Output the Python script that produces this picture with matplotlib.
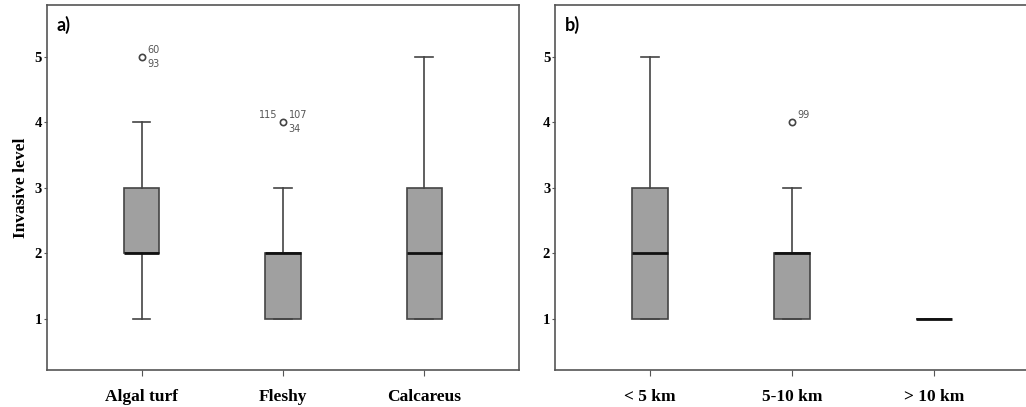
import matplotlib
matplotlib.use("Agg")
import matplotlib.pyplot as plt

# panel a: substrate type
cats_a = ["Algal turf", "Fleshy", "Calcareus"]
whislo_a = [1, 1, 1]
q1_a = [2, 1, 1]
med_a = [2, 2, 2]
q3_a = [3, 2, 3]
whishi_a = [4, 3, 5]
fliers_a = [[5], [4], []]
flier_labels_a = [[("60", "ur"), ("93", "lr")], [("115", "ul"), ("107", "ur"), ("34", "lr")], []]

# panel b: distance
cats_b = ["< 5 km", "5-10 km", "> 10 km"]
whislo_b = [1, 1, 1]
q1_b = [1, 1, 1]
med_b = [2, 2, 1]
q3_b = [3, 2, 1]
whishi_b = [5, 3, 1]
fliers_b = [[], [4], []]
flier_labels_b = [[], [("99", "ur")], []]

yticks = [1, 2, 3, 4, 5]

serif = "Liberation Serif"
spine_col = "#555555"


def make_stats(cats, lo, q1, med, q3, hi, fl):
    return [dict(label=c, whislo=lo[i], q1=q1[i], med=med[i], q3=q3[i],
                 whishi=hi[i], fliers=fl[i]) for i, c in enumerate(cats)]


def draw_panel(ax, stats, labels, tag):
    ax.bxp(stats, positions=[1, 2, 3], widths=0.25, patch_artist=True,
           boxprops=dict(facecolor="#a0a0a0", edgecolor="#444444", linewidth=1.2),
           medianprops=dict(color="#111111", linewidth=2),
           whiskerprops=dict(color="#444444", linewidth=1.2),
           capprops=dict(color="#444444", linewidth=1.2),
           capwidths=0.125,
           flierprops=dict(marker="o", markerfacecolor="white", markeredgecolor="#444444",
                           markersize=4.5, markeredgewidth=1.2))
    for i, labs in enumerate(labels):
        for txt, where in labs:
            y = stats[i]["fliers"][0]
            dx = 4 if where[1] == "r" else -4
            dy = 5 if where[0] == "u" else -5
            ax.annotate(txt, (i + 1, y), xytext=(dx, dy), textcoords="offset points",
                        ha="left" if where[1] == "r" else "right",
                        va="center", fontsize=7, color="#555555", family="DejaVu Sans")
    ax.set_xlim(0.33, 3.67)
    ax.set_ylim(0.22, 5.79)
    ax.set_yticks(yticks)
    ax.set_xticks([1, 2, 3])
    ax.set_xticklabels([s["label"] for s in stats], fontsize=12.5, fontweight="bold", family=serif)
    ax.set_yticklabels([str(t) for t in yticks], fontsize=10.5, fontweight="bold", family=serif)
    ax.tick_params(axis="y", length=2.5, color=spine_col, pad=1)
    ax.tick_params(axis="x", length=4, color=spine_col, pad=10)
    for s in ax.spines.values():
        s.set_color(spine_col)
        s.set_linewidth(1.2)
    ax.text(0.02, 0.97, tag, transform=ax.transAxes, fontsize=13, fontweight="bold",
            family="Lato", va="top", ha="left")


fig = plt.figure(figsize=(10.26, 4.07), dpi=100)
ax_a = fig.add_axes([0.0458, 0.0909, 0.46, 0.8968])
ax_b = fig.add_axes([0.541, 0.0909, 0.462, 0.8968])

draw_panel(ax_a, make_stats(cats_a, whislo_a, q1_a, med_a, q3_a, whishi_a, fliers_a),
           flier_labels_a, "a)")
draw_panel(ax_b, make_stats(cats_b, whislo_b, q1_b, med_b, q3_b, whishi_b, fliers_b),
           flier_labels_b, "b)")
ax_a.set_ylabel("Invasive level", fontsize=12.5, fontweight="bold", family=serif, labelpad=4)

fig.savefig("out.png", dpi=100)
